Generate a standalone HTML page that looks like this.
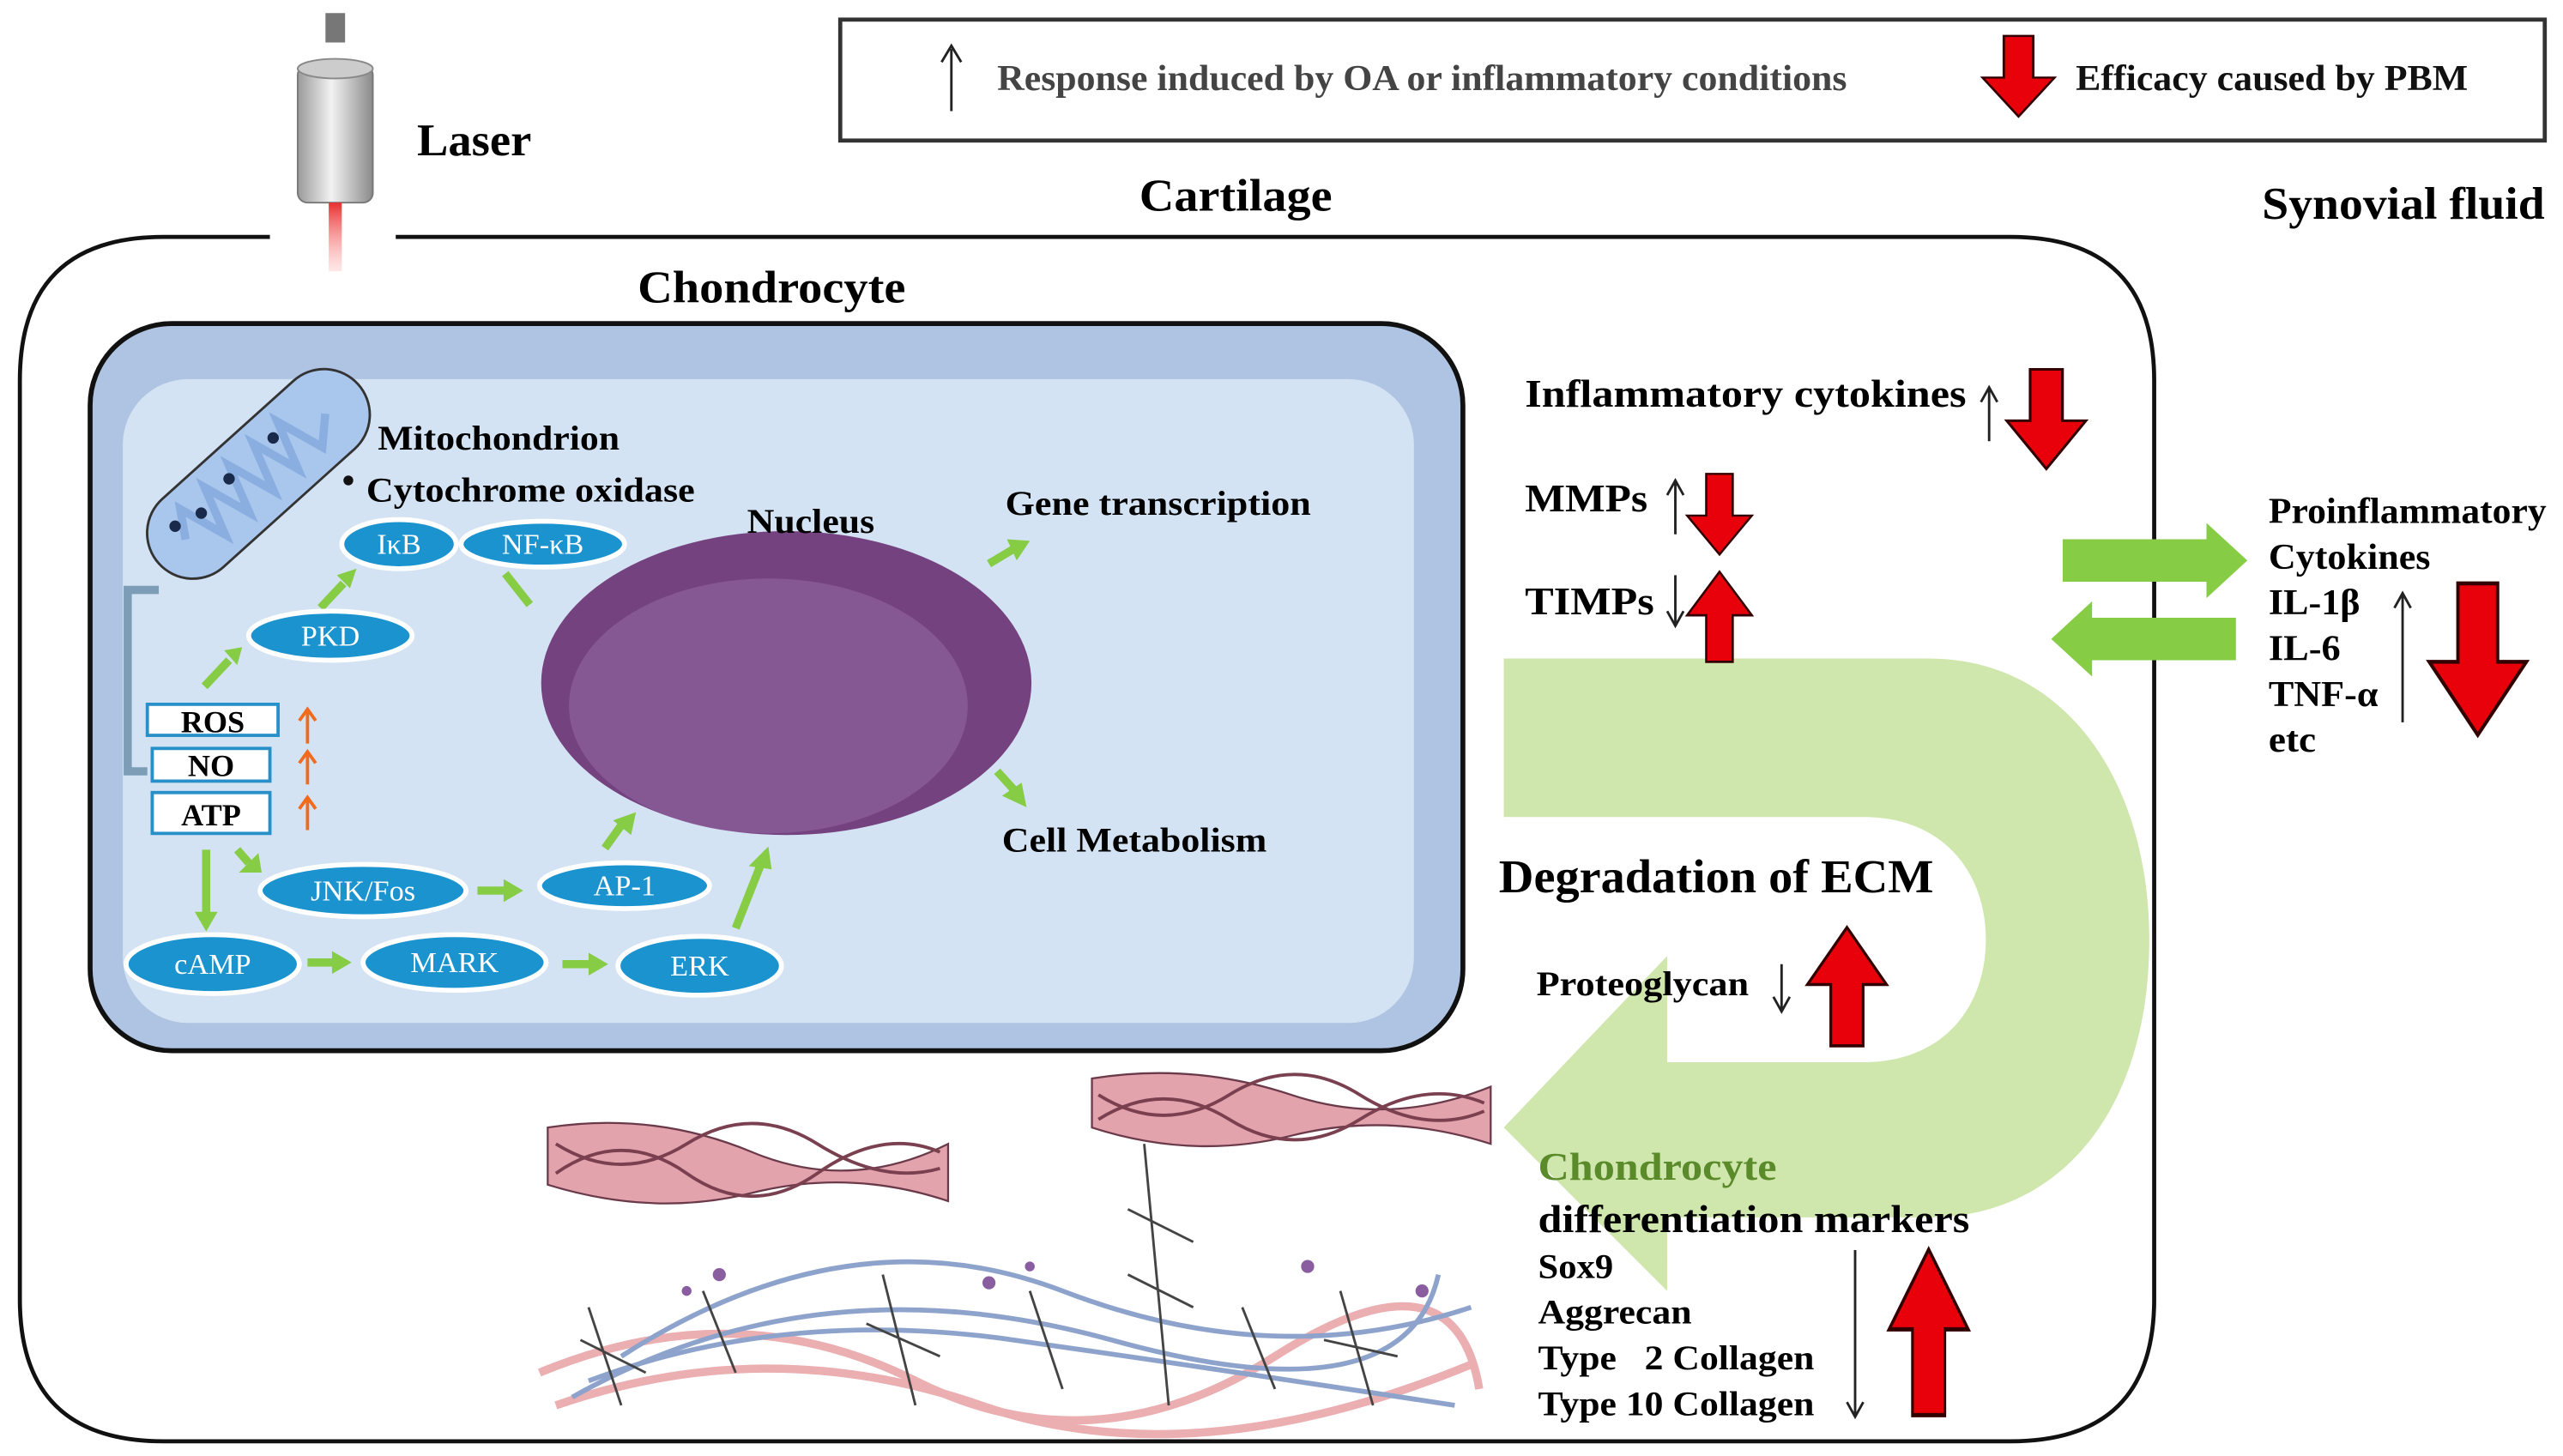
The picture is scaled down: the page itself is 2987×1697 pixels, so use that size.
<!DOCTYPE html>
<html><head><meta charset="utf-8"><style>
html,body{margin:0;padding:0;background:#fff}
svg{display:block}
text{font-family:"Liberation Serif",serif;font-weight:bold}
</style></head><body>
<svg width="2987" height="1697" viewBox="0 0 1568 891" xmlns="http://www.w3.org/2000/svg">
<defs>
<linearGradient id="lz" x1="0" x2="1"><stop offset="0" stop-color="#9a9a9a"/><stop offset=".45" stop-color="#f2f2f2"/><stop offset="1" stop-color="#8a8a8a"/></linearGradient>
<linearGradient id="beam" x1="0" y1="0" x2="0" y2="1"><stop offset="0" stop-color="#e83030"/><stop offset="1" stop-color="#ffb0b0" stop-opacity="0.3"/></linearGradient>
<g id="rd"><polygon points="-9,0 9,0 9,30 22,30 0,58 -22,30 -9,30" fill="#e8000b" stroke="#300" stroke-width="1.5"/></g>
</defs>
<rect width="1568" height="891" fill="#fff"/>
<!-- legend -->
<rect x="514" y="12" width="1043" height="74" fill="#fff" stroke="#333" stroke-width="2.5"/>
<line x1="582" y1="68" x2="582" y2="30" stroke="#222" stroke-width="1.5"/><path d="M576,38 L582,28 L588,38" fill="none" stroke="#222" stroke-width="1.5"/>
<text x="610" y="55" font-size="22" fill="#444" textLength="520" lengthAdjust="spacingAndGlyphs">Response induced by OA or inflammatory conditions</text>
<g transform="translate(1235,22) scale(1,0.85)"><use href="#rd"/></g>
<text x="1270" y="55" font-size="22" fill="#111" textLength="240" lengthAdjust="spacingAndGlyphs">Efficacy caused by PBM</text>
<!-- laser -->
<rect x="199" y="8" width="12" height="18" fill="#777"/>
<rect x="182" y="40" width="46" height="84" rx="6" fill="url(#lz)" stroke="#777"/>
<ellipse cx="205" cy="42" rx="23" ry="6" fill="#ccc" stroke="#888"/>
<rect x="201" y="124" width="8" height="42" fill="url(#beam)"/>
<text x="255" y="95" font-size="28" textLength="70" lengthAdjust="spacingAndGlyphs">Laser</text>
<text x="697" y="129" font-size="28" textLength="118" lengthAdjust="spacingAndGlyphs">Cartilage</text>
<text x="1384" y="134" font-size="28" textLength="173" lengthAdjust="spacingAndGlyphs">Synovial fluid</text>
<!-- cartilage -->
<path d="M165,145 L100,145 Q12,145 12,233 L12,795 Q12,882 100,882 L1230,882 Q1318,882 1318,795 L1318,233 Q1318,145 1230,145 L242,145" fill="none" stroke="#111" stroke-width="2.5"/>
<text x="390" y="185" font-size="28" textLength="164" lengthAdjust="spacingAndGlyphs">Chondrocyte</text>
<!-- cell -->
<rect x="55" y="198" width="840" height="445" rx="50" fill="#afc4e2" stroke="#111" stroke-width="3"/>
<rect x="75" y="232" width="790" height="394" rx="40" fill="#d4e3f3"/>
<!-- mitochondrion -->
<g transform="translate(158,290) rotate(-42)">
<rect x="-82" y="-28" width="164" height="56" rx="28" fill="#a9c6ec" stroke="#333" stroke-width="1.5"/>
<path d="M-60,0 L-50,-16 L-40,14 L-30,-16 L-20,14 L-10,-16 L0,14 L10,-16 L20,14 L30,-16 L40,14 L55,0" fill="none" stroke="#8aaee0" stroke-width="5"/>
</g>
<circle cx="167" cy="268" r="3.5" fill="#1a2a4a"/><circle cx="140" cy="293" r="3.5" fill="#1a2a4a"/><circle cx="123" cy="314" r="3.5" fill="#1a2a4a"/><circle cx="107" cy="322" r="3.5" fill="#1a2a4a"/>
<circle cx="213" cy="294" r="3" fill="#111"/>
<text x="231" y="275" font-size="21" textLength="148" lengthAdjust="spacingAndGlyphs">Mitochondrion</text>
<text x="224" y="307" font-size="21" textLength="201" lengthAdjust="spacingAndGlyphs">Cytochrome oxidase</text>
<path d="M97,361 L78,361 L78,472 L90,472" fill="none" stroke="#7d9cb6" stroke-width="5"/>
<!-- nucleus -->
<ellipse cx="481" cy="418" rx="150" ry="93" fill="#74427e"/>
<ellipse cx="470" cy="432" rx="122" ry="78" fill="#8a5c96" opacity=".85"/>
<text x="457" y="326" font-size="21" textLength="78" lengthAdjust="spacingAndGlyphs">Nucleus</text>
<text x="615" y="315" font-size="21" textLength="187" lengthAdjust="spacingAndGlyphs">Gene transcription</text>
<text x="613" y="521" font-size="21" textLength="162" lengthAdjust="spacingAndGlyphs">Cell Metabolism</text>
<!-- boxes -->
<g font-size="19" text-anchor="middle">
<rect x="90" y="431" width="80" height="19" fill="#fff" stroke="#2790c9" stroke-width="2"/><text x="130" y="448">ROS</text>
<rect x="93" y="458" width="72" height="20" fill="#fff" stroke="#2790c9" stroke-width="2"/><text x="129" y="475">NO</text>
<rect x="93" y="485" width="72" height="25" fill="#fff" stroke="#2790c9" stroke-width="2"/><text x="129" y="505">ATP</text>
</g>
<g stroke="#f26a1b" stroke-width="2" fill="none">
<path d="M188,455 V434 M183,441 L188,434 L193,441"/><path d="M188,480 V460 M183,467 L188,460 L193,467"/><path d="M188,508 V488 M183,495 L188,488 L193,495"/>
</g>
<!-- green arrows -->
<g stroke="#86cc45" stroke-width="5" fill="#86cc45">
<line x1="125" y1="420" x2="140" y2="404"/><polygon points="137,398 148,396 145,407" stroke="none"/>
<line x1="196" y1="372" x2="210" y2="357"/><polygon points="206,352 218,348 214,360" stroke="none"/>
<line x1="309" y1="351" x2="324" y2="370"/>
<line x1="126" y1="520" x2="126" y2="560"/><polygon points="119,558 133,558 126,570" stroke="none"/>
<line x1="145" y1="520" x2="152" y2="528"/><polygon points="146,534 160,534 158,522" stroke="none"/>
<line x1="292" y1="545" x2="310" y2="545"/><polygon points="308,538 320,545 308,552" stroke="none"/>
<line x1="188" y1="589" x2="205" y2="589"/><polygon points="203,582 215,589 203,596" stroke="none"/>
<line x1="344" y1="590" x2="362" y2="590"/><polygon points="360,583 372,590 360,597" stroke="none"/>
<line x1="370" y1="519" x2="380" y2="505"/><polygon points="375,502 389,497 386,511" stroke="none"/>
<line x1="450" y1="568" x2="465" y2="530"/><polygon points="458,530 472,532 470,518" stroke="none"/>
<line x1="605" y1="345" x2="620" y2="336"/><polygon points="616,330 630,331 622,343" stroke="none"/>
<line x1="610" y1="472" x2="620" y2="483"/><polygon points="613,487 628,494 625,479" stroke="none"/>
</g>
<!-- ovals -->
<g fill="#1b93cf" stroke="#fff" stroke-width="3">
<ellipse cx="244" cy="333" rx="35" ry="15"/><ellipse cx="332" cy="333" rx="50" ry="14"/>
<ellipse cx="202" cy="389" rx="50" ry="15"/><ellipse cx="222" cy="545" rx="63" ry="16"/>
<ellipse cx="382" cy="542" rx="52" ry="14"/><ellipse cx="130" cy="590" rx="53" ry="18"/>
<ellipse cx="278" cy="589" rx="56" ry="17"/><ellipse cx="428" cy="591" rx="50" ry="18"/>
</g>
<g fill="#fff" font-size="18" text-anchor="middle">
<text x="244" y="339" style="font-weight:normal">IκB</text><text x="332" y="339" style="font-weight:normal">NF-κB</text>
<text x="202" y="395" style="font-weight:normal">PKD</text><text x="222" y="551" style="font-weight:normal">JNK/Fos</text>
<text x="382" y="548" style="font-weight:normal">AP-1</text><text x="130" y="596" style="font-weight:normal">cAMP</text>
<text x="278" y="595" style="font-weight:normal">MARK</text><text x="428" y="597" style="font-weight:normal">ERK</text>
</g>
<!-- big green U arrow -->
<path d="M920,403 L1180,403 C1265,403 1315,480 1315,575 C1315,680 1260,745 1180,745 L1020,745 L1020,790 L920,690 L1020,585 L1020,650 L1140,650 C1190,650 1215,615 1215,575 C1215,535 1190,500 1140,500 L920,500 Z" fill="#cfe7ac"/>
<!-- double arrows -->
<polygon points="1262,330 1350,330 1350,320 1375,343 1350,366 1350,356 1262,356" fill="#86cc45"/>
<polygon points="1368,378 1280,378 1280,368 1255,391 1280,414 1280,404 1368,404" fill="#86cc45"/>
<!-- right texts -->
<text x="933" y="249" font-size="24" textLength="270" lengthAdjust="spacingAndGlyphs">Inflammatory cytokines</text>
<path d="M1217,270 V238 M1212,246 L1217,237 L1222,246" stroke="#222" stroke-width="1.5" fill="none"/>
<g transform="translate(1252,226) scale(1.1,1.05)"><use href="#rd"/></g>
<text x="933" y="313" font-size="24" textLength="75" lengthAdjust="spacingAndGlyphs">MMPs</text>
<path d="M1025,327 V295 M1020,303 L1025,294 L1030,303" stroke="#222" stroke-width="1.5" fill="none"/>
<g transform="translate(1052,290) scale(0.9,0.85)"><use href="#rd"/></g>
<text x="933" y="376" font-size="24" textLength="79" lengthAdjust="spacingAndGlyphs">TIMPs</text>
<path d="M1025,352 V382 M1020,374 L1025,383 L1030,374" stroke="#222" stroke-width="1.5" fill="none"/>
<g transform="translate(1052,405) scale(0.9,-0.95)"><use href="#rd"/></g>
<text x="917" y="546" font-size="29" textLength="266" lengthAdjust="spacingAndGlyphs">Degradation of ECM</text>
<text x="940" y="609" font-size="21" textLength="130" lengthAdjust="spacingAndGlyphs">Proteoglycan</text>
<path d="M1090,590 V618 M1085,610 L1090,619 L1095,610" stroke="#222" stroke-width="1.5" fill="none"/>
<g transform="translate(1130,640) scale(1.1,-1.25)"><use href="#rd"/></g>
<text x="941" y="722" font-size="24" fill="#5a8a2a" textLength="146" lengthAdjust="spacingAndGlyphs">Chondrocyte</text>
<text x="941" y="754" font-size="24" textLength="264" lengthAdjust="spacingAndGlyphs">differentiation markers</text>
<g font-size="21">
<text x="941" y="782" textLength="46" lengthAdjust="spacingAndGlyphs">Sox9</text>
<text x="941" y="810" textLength="94" lengthAdjust="spacingAndGlyphs">Aggrecan</text>
<text x="941" y="838" textLength="169" lengthAdjust="spacingAndGlyphs" xml:space="preserve">Type   2 Collagen</text>
<text x="941" y="866" textLength="169" lengthAdjust="spacingAndGlyphs">Type 10 Collagen</text></g>
<path d="M1135,765 V866 M1130,858 L1135,867 L1140,858" stroke="#222" stroke-width="1.5" fill="none"/>
<g transform="translate(1180,866) scale(1.1,-1.75)"><use href="#rd"/></g>
<g font-size="22">
<text x="1388" y="320" textLength="170" lengthAdjust="spacingAndGlyphs">Proinflammatory</text>
<text x="1388" y="348" textLength="99" lengthAdjust="spacingAndGlyphs">Cytokines</text>
<text x="1388" y="376" textLength="56" lengthAdjust="spacingAndGlyphs">IL-1β</text>
<text x="1388" y="404" textLength="44" lengthAdjust="spacingAndGlyphs">IL-6</text>
<text x="1388" y="432" textLength="67" lengthAdjust="spacingAndGlyphs">TNF-α</text>
<text x="1388" y="460" textLength="29" lengthAdjust="spacingAndGlyphs">etc</text></g>
<path d="M1470,442 V364 M1465,372 L1470,363 L1475,372" stroke="#222" stroke-width="1.5" fill="none"/>
<g transform="translate(1516,357) scale(1.35,1.6)"><use href="#rd"/></g>
<!-- collagen fibers -->
<g stroke="#6a3a4a" stroke-width="1.2" fill="#e3a3ac">
<path d="M335,690 Q400,680 460,705 T580,700 L580,735 Q520,715 460,730 T335,725 Z"/>
<path d="M668,660 Q730,650 790,670 T912,665 L912,700 Q850,680 790,695 T668,690 Z"/>
</g>
<g stroke="#7a4050" stroke-width="2" fill="none">
<path d="M340,700 Q380,725 420,700 T500,700 T575,715"/><path d="M340,718 Q380,690 420,718 T500,718 T575,705"/>
<path d="M672,670 Q712,695 752,670 T832,670 T908,680"/><path d="M672,685 Q712,660 752,685 T832,685 T908,675"/>
</g>
<!-- matrix mesh -->
<g fill="none" stroke-width="5" opacity=".85">
<path d="M330,840 Q450,790 560,845 T780,830 T905,850" stroke="#e8a0a4"/>
<path d="M340,860 Q470,815 600,860 T900,835" stroke="#e8a0a4"/>
<path d="M380,830 Q520,740 650,790 T900,800" stroke="#7a94c4" stroke-width="3"/>
<path d="M350,855 Q500,770 680,820 T880,780" stroke="#7a94c4" stroke-width="3"/>
<path d="M360,845 Q480,800 620,820 T890,860" stroke="#7a94c4" stroke-width="3"/>
</g>
<g stroke="#444" stroke-width="1.5" fill="none">
<path d="M360,800 L380,860 M355,820 L395,840 M540,780 L560,860 M530,810 L575,830 M700,700 L715,860 M690,740 L730,760 M690,780 L730,800 M820,790 L840,860 M810,820 L855,830 M630,790 L650,850 M430,790 L450,840 M760,800 L780,850"/>
</g>
<g fill="#8a5ca0"><circle cx="440" cy="780" r="4"/><circle cx="605" cy="785" r="4"/><circle cx="800" cy="775" r="4"/><circle cx="870" cy="790" r="4"/><circle cx="420" cy="790" r="3"/><circle cx="630" cy="775" r="3"/></g>
</svg>
</body></html>
